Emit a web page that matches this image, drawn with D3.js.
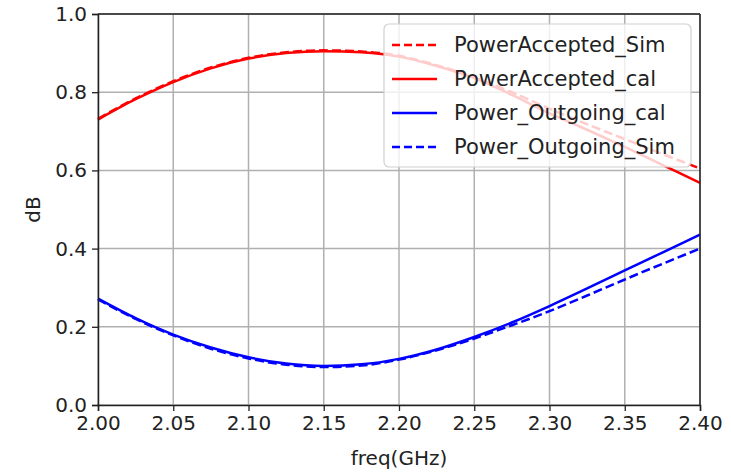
<!DOCTYPE html>
<html>
<head>
<meta charset="utf-8">
<script src="https://cdn.jsdelivr.net/npm/d3@7"></script>
<style>
  body { margin: 0; background: #fff; }
  svg text { font-family: "DejaVu Sans", sans-serif; fill: #222; }
</style>
</head>
<body>
<div id="vis-container"></div>
<script>
// ------------------------------ DATA ------------------------------ //
const freq = [2.000, 2.025, 2.050, 2.075, 2.100, 2.125, 2.150, 2.175, 2.200,
  2.225, 2.250, 2.275, 2.300, 2.325, 2.350, 2.375, 2.400];

const acceptedSim = [0.732, 0.784, 0.828, 0.863, 0.888, 0.902, 0.907, 0.904, 0.893,
  0.869, 0.838, 0.800, 0.758, 0.718, 0.680, 0.642, 0.605];
const acceptedCal = [0.730, 0.782, 0.826, 0.861, 0.886, 0.900, 0.905, 0.902, 0.891,
  0.867, 0.836, 0.793, 0.746, 0.704, 0.660, 0.614, 0.568];
const outgoingCal = [0.272, 0.222, 0.180, 0.147, 0.122, 0.106, 0.100, 0.104, 0.118,
  0.142, 0.174, 0.211, 0.253, 0.298, 0.344, 0.390, 0.436];
const outgoingSim = [0.270, 0.220, 0.178, 0.144, 0.119, 0.103, 0.097, 0.101, 0.116,
  0.140, 0.170, 0.204, 0.240, 0.280, 0.321, 0.361, 0.400];

const xTicks = [2.00, 2.05, 2.10, 2.15, 2.20, 2.25, 2.30, 2.35, 2.40];
const yTicks = [0.0, 0.2, 0.4, 0.6, 0.8, 1.0];

const series = [
  { name: "PowerAccepted_Sim", values: acceptedSim, color: "#ff0000", dashed: true },
  { name: "PowerAccepted_cal", values: acceptedCal, color: "#ff0000", dashed: false },
  { name: "Power_Outgoing_cal", values: outgoingCal, color: "#0000ff", dashed: false },
  { name: "Power_Outgoing_Sim", values: outgoingSim, color: "#0000ff", dashed: true }
];

// ------------------------------ SET UP ------------------------------ //
const width = 731;
const height = 475;
const margin = { top: 14, right: 31, bottom: 70, left: 98 };
const dash = "9,4";

const svg = d3.select("#vis-container")
  .append("svg")
  .attr("width", width)
  .attr("height", height);

const x = d3.scaleLinear()
  .domain([2.0, 2.4])
  .range([margin.left, width - margin.right]);

const y = d3.scaleLinear()
  .domain([0, 1])
  .range([height - margin.bottom, margin.top]);

// Grid lines
svg.append("g")
  .selectAll("line.vgrid")
  .data(xTicks)
  .enter()
  .append("line")
  .attr("x1", d => x(d)).attr("x2", d => x(d))
  .attr("y1", y(0)).attr("y2", y(1))
  .attr("stroke", "#b0b0b0")
  .attr("stroke-width", 1.5);

svg.append("g")
  .selectAll("line.hgrid")
  .data(yTicks)
  .enter()
  .append("line")
  .attr("x1", x(2.0)).attr("x2", x(2.4))
  .attr("y1", d => y(d)).attr("y2", d => y(d))
  .attr("stroke", "#b0b0b0")
  .attr("stroke-width", 1.5);

// Curves
const line = d3.line()
  .x((d, i) => x(freq[i]))
  .y(d => y(d))
  .curve(d3.curveMonotoneX);

svg.append("g")
  .selectAll("path")
  .data(series)
  .enter()
  .append("path")
  .attr("d", d => line(d.values))
  .attr("fill", "none")
  .attr("stroke", d => d.color)
  .attr("stroke-width", 2.5)
  .attr("stroke-dasharray", d => d.dashed ? dash : null);

// Axes
const xAxis = svg.append("g")
  .attr("transform", `translate(0,${y(0)})`)
  .call(d3.axisBottom(x).tickValues(xTicks).tickFormat(d3.format(".2f")).tickSizeOuter(0).tickSize(6).tickPadding(5));

const yAxis = svg.append("g")
  .attr("transform", `translate(${x(2.0)},0)`)
  .call(d3.axisLeft(y).tickValues(yTicks).tickFormat(d3.format(".1f")).tickSizeOuter(0).tickSize(6).tickPadding(5));

[xAxis, yAxis].forEach(g => {
  g.selectAll("text").attr("font-size", "20px").attr("fill", "#222");
  g.selectAll("line").attr("stroke", "#222").attr("stroke-width", 1.3);
  g.select(".domain").attr("stroke", "#222").attr("stroke-width", 1.5);
});

// Top and right spines
svg.append("line")
  .attr("x1", x(2.0)).attr("x2", x(2.4))
  .attr("y1", y(1)).attr("y2", y(1))
  .attr("stroke", "#222").attr("stroke-width", 1.5);
svg.append("line")
  .attr("x1", x(2.4)).attr("x2", x(2.4))
  .attr("y1", y(0)).attr("y2", y(1))
  .attr("stroke", "#222").attr("stroke-width", 1.5);

// Axis labels
svg.append("text")
  .attr("x", (x(2.0) + x(2.4)) / 2)
  .attr("y", 465)
  .attr("text-anchor", "middle")
  .attr("font-size", "20px")
  .text("freq(GHz)");

svg.append("text")
  .attr("transform", `translate(40,${(y(0) + y(1)) / 2}) rotate(-90)`)
  .attr("text-anchor", "middle")
  .attr("font-size", "20px")
  .text("dB");

// Legend
const legend = svg.append("g").attr("transform", "translate(384,24)");

legend.append("rect")
  .attr("width", 307)
  .attr("height", 143)
  .attr("rx", 5)
  .attr("fill", "#fff")
  .attr("fill-opacity", 0.8)
  .attr("stroke", "#d0d0d0")
  .attr("stroke-width", 1.2);

const rows = legend.selectAll("g.row")
  .data(series)
  .enter()
  .append("g")
  .attr("transform", (d, i) => `translate(0,${21 + i * 34})`);

rows.append("line")
  .attr("x1", 8).attr("x2", 53)
  .attr("stroke", d => d.color)
  .attr("stroke-width", 2.5)
  .attr("stroke-dasharray", d => d.dashed ? "8,4" : null);

rows.append("text")
  .attr("x", 70)
  .attr("dy", "0.35em")
  .attr("font-size", "21px")
  .text(d => d.name);
</script>
</body>
</html>
